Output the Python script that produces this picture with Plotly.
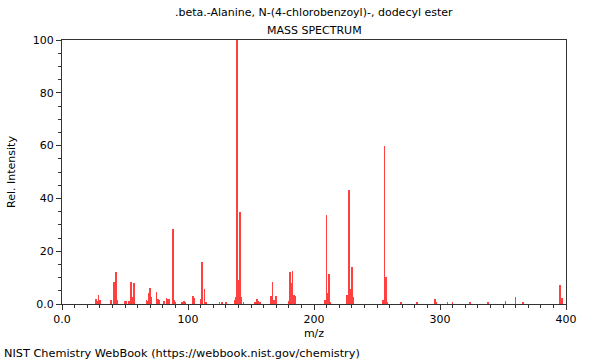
import plotly.graph_objects as go

# m/z values and relative intensities
mz = [27, 28, 29, 30, 39, 41, 42, 43, 44, 50, 51, 53, 54, 55, 56, 57,
      67, 68, 69, 70, 71, 75, 76, 77, 81, 83, 84, 85, 88, 89, 90, 95, 97, 98,
      104, 105, 110, 111, 113, 114, 125, 127, 130, 137, 138, 139, 140, 141, 142,
      144, 153, 155, 156, 157, 166, 167, 168, 170, 180, 181, 182, 183, 184, 185,
      209, 210, 211, 212, 213, 226, 227, 228, 229, 230, 231, 255, 256, 257, 258,
      269, 282, 296, 297, 306, 310, 324, 338, 352, 360, 366, 395, 396, 397]
intensity = [1.9, 1.0, 3.4, 1.6, 1.4, 8.4, 2.3, 12.2, 1.4, 1.0, 1.0, 1.0, 1.0, 8.2, 2.6, 8.0,
             1.6, 1.2, 4.2, 5.9, 2.6, 4.5, 1.8, 1.4, 1.2, 2.2, 2.0, 2.0, 28.6, 1.4, 0.6, 0.7, 1.0, 0.6,
             2.9, 2.3, 1.8, 16.0, 5.6, 0.6, 0.5, 0.5, 0.5, 1.5, 2.5, 100.0, 9.1, 34.8, 2.8,
             0.5, 0.5, 1.9, 1.0, 0.6, 3.1, 8.3, 1.7, 3.1, 1.0, 12.1, 8.1, 12.4, 3.3, 3.1,
             1.5, 33.7, 4.3, 11.4, 0.5, 3.4, 2.0, 43.0, 5.7, 14.1, 2.5, 1.5, 60.0, 10.4, 0.7,
             0.4, 0.8, 1.9, 0.5, 0.5, 0.9, 0.6, 0.6, 1.0, 2.5, 0.6, 7.2, 1.5, 2.4]

x_ticks = [0, 100, 200, 300, 400]
x_tick_text = ["0.0", "100", "200", "300", "400"]
y_ticks = [0, 20, 40, 60, 80, 100]
y_tick_text = ["0.0", "20", "40", "60", "80", "100"]

title_text = ".beta.-Alanine, N-(4-chlorobenzoyl)-, dodecyl ester"
subtitle_text = "MASS SPECTRUM"
footer_text = "NIST Chemistry WebBook (https://webbook.nist.gov/chemistry)"

font_family = "DejaVu Sans"
axis_color = "#333333"

fig = go.Figure()
fig.add_trace(go.Bar(
    x=mz, y=intensity, width=0.6,
    marker=dict(color="#ff4040", line=dict(width=0)),
    hoverinfo="x+y",
))

fig.update_layout(
    width=600, height=360,
    margin=dict(l=62, r=34, t=40, b=56, autoexpand=False),
    paper_bgcolor="white", plot_bgcolor="white",
    showlegend=False,
    bargap=0,
    font=dict(family=font_family, size=11, color="black"),
    annotations=[
        dict(text=title_text, xref="paper", yref="paper", x=0.5, y=1,
             yshift=28, showarrow=False, xanchor="center", yanchor="middle",
             font=dict(size=11)),
        dict(text=subtitle_text, xref="paper", yref="paper", x=0.5, y=1,
             yshift=10, showarrow=False, xanchor="center", yanchor="middle",
             font=dict(size=11)),
        dict(text=footer_text, xref="paper", yref="paper", x=0, y=0,
             xshift=-60, yshift=-49, showarrow=False, xanchor="left", yanchor="middle",
             font=dict(size=11.3)),
    ],
)

fig.update_xaxes(
    range=[0, 400], tickvals=x_ticks, ticktext=x_tick_text,
    showgrid=False, zeroline=False, automargin=False,
    showline=True, linecolor=axis_color, linewidth=1, mirror=True,
    ticks="outside", ticklen=5, tickcolor=axis_color,
    minor=dict(dtick=10, ticks="outside", ticklen=3, tickcolor=axis_color),
    title=dict(text="m/z", standoff=4, font=dict(size=11)),
    tickfont=dict(size=11),
)
fig.update_yaxes(
    range=[0, 100], tickvals=y_ticks, ticktext=y_tick_text,
    showgrid=False, zeroline=False, automargin=False,
    showline=True, linecolor=axis_color, linewidth=1, mirror=True,
    ticks="outside", ticklen=5, tickcolor=axis_color,
    minor=dict(dtick=5, ticks="outside", ticklen=3, tickcolor=axis_color),
    title=dict(text="Rel. Intensity", standoff=14, font=dict(size=11)),
    tickfont=dict(size=11),
)

fig.write_html(
    "out.html",
    config={"displayModeBar": False},
    post_script="document.body.style.margin='0';document.body.style.padding='0';",
)
